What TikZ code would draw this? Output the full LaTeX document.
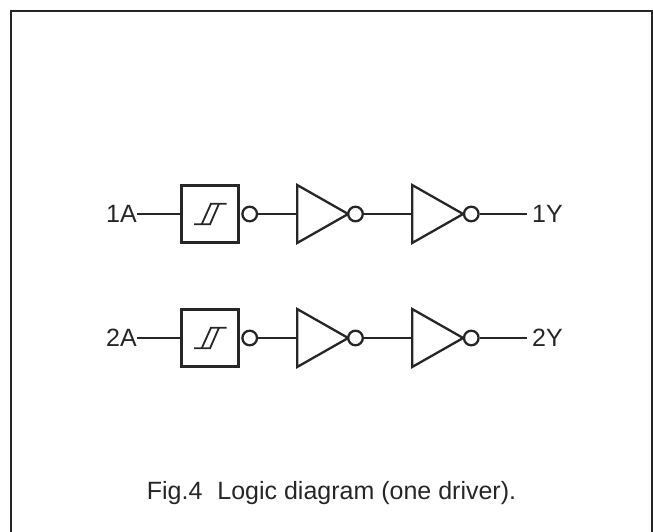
\documentclass[tikz,border=0pt]{standalone}
\usepackage{fontspec}
\setmainfont{Liberation Sans}
\usetikzlibrary{shapes.geometric}
\tikzset{
  x=1pt,y=-1pt,
  wire/.style={draw=black!85,line width=1.3pt},
  frameline/.style={draw=black!85,line width=2pt},
  gatebox/.style={draw=black!85,line width=2.3pt,rectangle,minimum width=57pt,minimum height=57pt,inner sep=0pt},
  bubble/.style={draw=black!85,line width=2.3pt,circle,minimum size=14.6pt,inner sep=0pt,fill=white},
  driver/.style={draw=black!85,line width=2.3pt,isosceles triangle,isosceles triangle stretches,shape border rotate=0,minimum width=58pt,minimum height=51pt,inner sep=0pt,anchor=lower side},
  pinlabel/.style={font=\fontsize{25}{30}\selectfont,text=black!85,inner sep=0pt},
  caption/.style={font=\fontsize{25}{30}\selectfont,text=black!85,inner sep=0pt},
  hyst/.style={draw=black!85,line width=1.8pt},
}
\begin{document}
\begin{tikzpicture}
\useasboundingbox (0,0) rectangle (653,532);
\coordinate (fa) at (11,532);
\coordinate (fb) at (11,11);
\coordinate (fc) at (651.5,11);
\coordinate (fd) at (651.5,532);
\draw[frameline] (fa) -- (fb) -- (fc) -- (fd);
\foreach \r/\yy in {1/214,2/338}{
  \node[pinlabel,anchor=east] (a\r) at (137,\yy) {\r A};
  \node[gatebox] (box\r) at (210,\yy) {};
  \node[driver] (t\r) at (296,\yy) {};
  \node[driver] (u\r) at (411,\yy) {};
  \node[bubble] (ba\r) at (249.7,\yy) {};
  \node[bubble] (bb\r) at (355.5,\yy) {};
  \node[bubble] (bc\r) at (471.3,\yy) {};
  \coordinate (e\r) at (526.7,\yy);
  \node[pinlabel,anchor=west] (y\r) at (532,\yy) {\r Y};
  \draw[wire] (a\r.east) -- (box\r.west);
  \draw[wire] (ba\r.east) -- (t\r.lower side);
  \draw[wire] (bb\r.east) -- (u\r.lower side);
  \draw[wire] (bc\r.east) -- (e\r);
  \draw[hyst] ([shift={(-16,10.3)}]box\r.center) -- ([shift={(0,10.3)}]box\r.center) -- ([shift={(9,-10.3)}]box\r.center);
  \draw[hyst] ([shift={(-8.3,10.3)}]box\r.center) -- ([shift={(1,-10.3)}]box\r.center) -- ([shift={(16.7,-10.3)}]box\r.center);
}
\node[caption,anchor=base] (cap) at (331.5,499.3) {Fig.4\hspace{0.6em}Logic diagram (one driver).};
\end{tikzpicture}
\end{document}
